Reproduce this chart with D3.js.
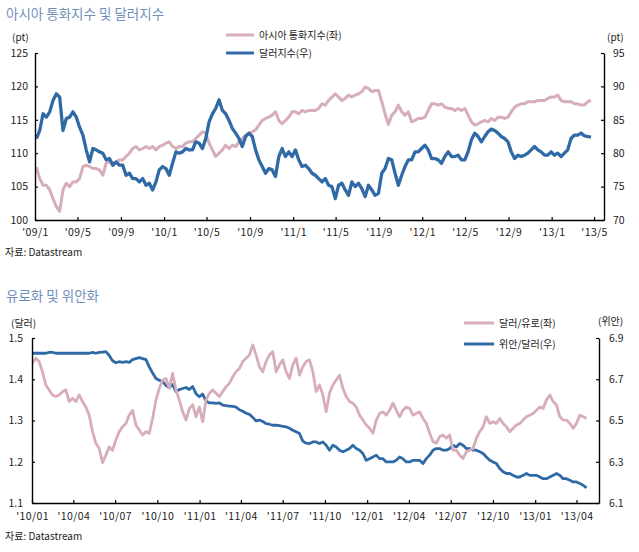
<!DOCTYPE html>
<html><head><meta charset="utf-8">
<script src="https://cdn.jsdelivr.net/npm/d3@7"></script>
<style>
html,body{margin:0;padding:0;background:#fff;}
svg{display:block;font-family:"Noto Sans CJK KR","Noto Sans",sans-serif;}
</style></head>
<body><svg id="c" width="639" height="552"></svg>
<script>
// ---------- DATA: chart 1 (아시아 통화지수 및 달러지수) ----------
const topStart = "2009-01-05";      // first observation
const topStepDays = 9.39;           // sampling interval of the series below
const asiaIndex = [ // 아시아 통화지수 (좌, pt)
107.9,106.2,105.2,105.2,104.5,103.2,102.0,101.3,104.5,105.5,
105.0,105.7,105.7,106.2,108.0,108.2,108.0,107.7,107.7,107.5,
106.7,108.5,108.7,108.5,108.7,109.0,109.0,109.5,110.0,110.7,
111.0,110.5,110.7,111.0,110.7,111.0,110.5,111.0,111.2,111.5,
111.7,111.0,110.7,111.0,111.0,111.5,111.7,111.7,112.2,112.7,
113.2,113.0,111.5,110.5,109.5,110.0,110.5,111.2,110.7,111.2,
111.0,111.7,112.2,112.7,113.0,113.2,113.5,114.2,114.9,115.2,
115.4,115.7,116.2,114.9,114.4,114.9,115.4,116.2,116.2,115.9,
116.4,116.2,116.4,116.4,116.4,116.7,117.4,117.2,
117.9,118.4,118.9,118.4,117.9,118.2,118.7,118.4,118.7,118.9,
119.2,119.9,119.7,119.2,119.4,119.4,117.7,115.9,114.3,115.7,
116.2,117.2,116.2,115.7,116.2,114.7,114.9,115.2,115.2,115.4,
116.4,117.4,117.4,117.2,117.4,116.9,116.7,116.7,116.4,116.7,
116.4,116.7,115.7,114.7,114.2,114.4,114.7,114.9,114.7,115.2,
114.9,115.4,115.4,115.2,115.4,116.2,116.9,117.2,117.4,117.4,
117.7,117.7,117.7,117.9,117.9,117.9,118.2,118.4,118.4,118.7,
117.9,117.7,117.7,117.7,117.4,117.4,117.2,117.2,117.7,117.9];
const dollarIndex = [ // 달러지수 (우, pt)
82.2,83.4,85.9,85.4,86.2,87.9,88.9,88.4,83.4,85.2,
85.4,86.2,85.4,83.9,82.7,80.5,78.7,80.7,80.5,80.2,
80.0,79.0,79.2,78.2,78.7,78.2,78.2,76.7,77.0,76.2,
76.2,75.7,76.2,75.2,75.5,74.5,75.7,77.5,78.0,77.7,
76.7,78.5,80.2,80.0,80.2,80.7,80.5,80.5,81.7,81.5,
80.7,82.2,84.7,85.9,86.7,88.0,86.4,85.9,84.9,83.7,
83.0,82.2,81.0,82.5,83.0,82.5,80.5,79.0,78.0,77.0,
77.7,77.5,76.5,79.5,80.7,79.5,80.2,79.5,80.5,79.0,
78.0,78.2,77.7,77.0,76.7,76.2,75.7,76.2,
75.2,75.0,73.2,75.2,75.5,74.5,73.7,75.7,75.0,75.5,
74.7,73.5,75.2,74.5,73.7,74.0,77.0,77.7,79.2,79.0,
77.0,75.2,76.7,78.0,79.0,79.0,80.2,80.2,80.7,81.2,
80.5,79.2,79.2,79.0,78.5,79.5,80.2,79.5,79.5,79.7,
79.0,79.0,80.2,82.0,83.0,82.5,81.7,82.5,83.2,83.6,
83.4,83.0,82.5,82.2,81.7,80.2,79.2,79.7,79.5,79.7,
80.0,80.5,81.0,80.5,80.2,79.7,79.7,80.2,79.7,80.0,
79.5,80.0,80.5,82.2,82.7,82.7,83.0,82.6,82.5,82.4];
const topLeftTicks = [100,105,110,115,120,125];
const topRightTicks = [70,75,80,85,90,95];
const topXTicks = ["2009-01-01","2009-05-01","2009-09-01","2010-01-01","2010-05-01","2010-09-01","2011-01-01","2011-05-01","2011-09-01","2012-01-01","2012-05-01","2012-09-01","2013-01-01","2013-05-01"];
const topXLabels = ["'09/1","'09/5","'09/9","'10/1","'10/5","'10/9","'11/1","'11/5","'11/9","'12/1","'12/5","'12/9","'13/1","'13/5"];

// ---------- DATA: chart 2 (유로화 및 위안화) ----------
const botStart = "2010-01-02";
const botStepDays = 7.27;
const usdPerEur = [ // 달러/유로 (좌)
1.439,1.451,1.443,1.418,1.386,1.374,1.362,1.358,1.362,1.370,
1.374,1.346,1.354,1.346,1.362,1.346,1.333,1.313,1.273,1.245,
1.232,1.198,1.216,1.236,1.228,1.253,1.273,1.285,1.293,1.313,
1.325,1.289,1.277,1.265,1.273,1.269,1.305,1.350,1.378,1.398,
1.402,1.378,1.414,1.374,1.350,1.321,1.301,1.329,1.338,1.309,
1.333,1.297,1.350,1.366,1.374,1.366,1.358,1.370,1.382,1.390,
1.406,1.418,1.426,1.443,1.451,1.459,1.483,1.459,1.430,1.418,
1.443,1.459,1.467,1.418,1.435,1.447,1.418,1.402,1.435,1.451,
1.410,1.430,1.443,1.447,1.418,1.370,1.386,1.362,
1.321,1.366,1.386,1.398,1.410,1.378,1.358,1.346,1.342,1.333,
1.313,1.301,1.289,1.281,1.269,1.301,1.317,1.321,1.313,1.325,
1.342,1.325,1.309,1.325,1.333,1.329,1.313,1.317,1.321,1.305,
1.293,1.269,1.249,1.245,1.261,1.265,1.257,1.265,1.228,1.228,
1.216,1.208,1.224,1.228,1.232,1.257,1.273,1.285,1.309,1.293,
1.297,1.293,1.305,1.293,1.285,1.273,1.281,1.289,1.293,1.301,
1.309,1.313,1.317,1.325,1.333,1.329,1.350,1.362,1.346,1.338,
1.309,1.301,1.301,1.293,1.281,1.293,1.313,1.309,1.305];
const cnyPerUsd = [ // 위안/달러 (우)
6.826,6.826,6.826,6.826,6.826,6.830,6.830,6.826,6.826,6.826,
6.826,6.826,6.826,6.826,6.826,6.826,6.826,6.826,6.830,6.826,
6.830,6.832,6.834,6.815,6.790,6.780,6.785,6.782,6.785,6.782,
6.795,6.800,6.805,6.800,6.795,6.760,6.730,6.704,6.695,6.688,
6.670,6.660,6.675,6.640,6.650,6.655,6.660,6.650,6.665,6.630,
6.615,6.628,6.595,6.585,6.585,6.583,6.585,6.575,6.572,6.570,
6.568,6.565,6.552,6.545,6.535,6.530,6.515,6.498,6.502,6.495,
6.485,6.482,6.477,6.478,6.475,6.472,6.469,6.462,6.453,6.445,
6.437,6.400,6.390,6.388,6.396,6.396,6.388,6.396,
6.380,6.356,6.380,6.372,6.356,6.348,6.356,6.364,6.380,6.364,
6.356,6.340,6.307,6.315,6.323,6.332,6.315,6.315,6.299,6.299,
6.299,6.307,6.323,6.315,6.299,6.299,6.307,6.307,6.307,6.291,
6.315,6.332,6.356,6.364,6.364,6.356,6.356,6.364,6.380,6.372,
6.388,6.380,6.364,6.364,6.356,6.356,6.348,6.340,6.323,6.307,
6.299,6.291,6.267,6.251,6.243,6.243,6.234,6.226,6.226,6.234,
6.243,6.234,6.234,6.234,6.226,6.218,6.218,6.226,6.234,6.243,
6.234,6.218,6.218,6.210,6.202,6.202,6.194,6.186,6.173];
const botLeftTicks = [1.1,1.2,1.3,1.4,1.5];
const botRightTicks = [6.1,6.3,6.5,6.7,6.9];
const botXTicks = ["2010-01-01","2010-04-01","2010-07-01","2010-10-01","2011-01-01","2011-04-01","2011-07-01","2011-10-01","2012-01-01","2012-04-01","2012-07-01","2012-10-01","2013-01-01","2013-04-01"];
const botXLabels = ["'10/01","'10/04","'10/07","'10/10","'11/01","'11/04","'11/07","'11/10","'12/01","'12/04","'12/07","'12/10","'13/01","'13/04"];

// ---------- STYLE ----------
const PINK = "#d6adb9", BLUE = "#2f6aa6", TITLE = "#6f8fbb", INK = "#222";
const parse = s => { const [y,m,d] = s.split("-").map(Number); return new Date(y, m-1, d); };
const DAY = 864e5;

const svg = d3.select("#c");

function drawChart(cfg) {
  const g = svg.append("g");
  const dates = cfg.left.map((_, i) => new Date(parse(cfg.start).getTime() + i * cfg.step * DAY));
  const x = d3.scaleTime().domain(cfg.xDomain.map(parse)).range([cfg.x0, cfg.x1]);
  const yL = d3.scaleLinear().domain(cfg.lDomain).range([cfg.y1, cfg.y0]);
  const yR = d3.scaleLinear().domain(cfg.rDomain).range([cfg.y1, cfg.y0]);

  g.append("text").attr("x", 6).attr("y", cfg.titleY).attr("fill", TITLE)
    .attr("font-size", 13.5).text(cfg.title);

  g.append("text").attr("x", cfg.unitLX).attr("y", cfg.unitY).attr("font-size", 10).attr("fill", INK).text(cfg.unitL);
  g.append("text").attr("x", cfg.unitRX).attr("y", cfg.unitY - cfg.unitRdy).attr("font-size", 10).attr("fill", INK).text(cfg.unitR);

  const lineL = d3.line().x((d,i) => x(dates[i])).y(d => yL(d));
  const lineR = d3.line().x((d,i) => x(dates[i])).y(d => yR(d));
  const order = cfg.rightOnTop ? ["L","R"] : ["R","L"];
  order.forEach(k => {
    if (k === "L") g.append("path").datum(cfg.left).attr("d", lineL).attr("fill","none")
      .attr("stroke", PINK).attr("stroke-width", cfg.pinkW).attr("stroke-linejoin","round");
    else g.append("path").datum(cfg.right).attr("d", lineR).attr("fill","none")
      .attr("stroke", BLUE).attr("stroke-width", cfg.blueW).attr("stroke-linejoin","round");
  });

  const ax = g.append("g").attr("transform", `translate(0,${cfg.y1})`)
    .call(d3.axisBottom(x).tickValues(cfg.xTicks.map(parse))
      .tickFormat((d,i) => cfg.xLabels[i]).tickSizeInner(-3).tickSizeOuter(0).tickPadding(cfg.xPad));
  const al = g.append("g").attr("transform", `translate(${cfg.x0},0)`)
    .call(d3.axisLeft(yL).tickValues(cfg.lTicks).tickFormat(cfg.lFmt)
      .tickSizeInner(-3).tickSizeOuter(0).tickPadding(cfg.lPad));
  const ar = g.append("g").attr("transform", `translate(${cfg.x1},0)`)
    .call(d3.axisRight(yR).tickValues(cfg.rTicks).tickFormat(cfg.rFmt)
      .tickSizeInner(-3).tickSizeOuter(0).tickPadding(cfg.rPad));
  [ax, al, ar].forEach(a => {
    a.select(".domain").attr("stroke", "#000").attr("stroke-width", 1.4);
    a.selectAll(".tick line").attr("stroke", "#000").attr("stroke-width", 1.2);
    a.selectAll("text").attr("font-size", 10.5).attr("fill", INK)
      .attr("font-family", '"Noto Sans CJK KR","Noto Sans",sans-serif');
  });
  ax.selectAll("text").attr("letter-spacing", 0.4);

  cfg.legend.forEach((it, i) => {
    const ly = cfg.legY + i * cfg.legGap;
    g.append("line").attr("x1", cfg.legX).attr("x2", cfg.legX + cfg.legLen)
      .attr("y1", ly).attr("y2", ly).attr("stroke", it.color).attr("stroke-width", 3);
    g.append("text").attr("x", cfg.legX + cfg.legLen + 5).attr("y", ly + 3.6)
      .attr("font-size", 10).attr("fill", INK).text(it.label);
  });

  g.append("text").attr("x", 5).attr("y", cfg.srcY).attr("font-size", 10).attr("fill", INK)
    .text("자료: Datastream");
}

drawChart({
  title: "아시아 통화지수 및 달러지수", titleY: 19,
  start: topStart, step: topStepDays, left: asiaIndex, right: dollarIndex,
  xDomain: ["2009-01-01","2013-05-29"], x0: 35, x1: 604, y0: 53, y1: 220,
  lDomain: [100,125], rDomain: [70,95], lTicks: topLeftTicks, rTicks: topRightTicks,
  lFmt: d3.format("d"), rFmt: d3.format("d"),
  xTicks: topXTicks, xLabels: topXLabels, xPad: 9, lPad: 7, rPad: 9,
  unitL: "(pt)", unitR: "(pt)", unitLX: 12, unitRX: 607, unitY: 41, unitRdy: 0,
  rightOnTop: true, pinkW: 3, blueW: 3.3,
  legend: [{label: "아시아 통화지수(좌)", color: PINK}, {label: "달러지수(우)", color: BLUE}],
  legX: 226, legLen: 28, legY: 35, legGap: 18,
  srcY: 256
});

drawChart({
  title: "유로화 및 위안화", titleY: 301,
  start: botStart, step: botStepDays, left: usdPerEur, right: cnyPerUsd,
  xDomain: ["2010-01-01","2013-05-20"], x0: 32, x1: 599, y0: 338, y1: 503,
  lDomain: [1.1,1.5], rDomain: [6.1,6.9], lTicks: botLeftTicks, rTicks: botRightTicks,
  lFmt: d3.format(".1f"), rFmt: d3.format(".1f"),
  xTicks: botXTicks, xLabels: botXLabels, xPad: 9.5, lPad: 9, rPad: 10,
  unitL: "(달러)", unitR: "(위안)", unitLX: 11, unitRX: 598, unitY: 327, unitRdy: 2,
  rightOnTop: false, pinkW: 2.8, blueW: 2.8,
  legend: [{label: "달러/유로(좌)", color: PINK}, {label: "위안/달러(우)", color: BLUE}],
  legX: 464, legLen: 30, legY: 323, legGap: 21,
  srcY: 540
});
</script></body></html>
